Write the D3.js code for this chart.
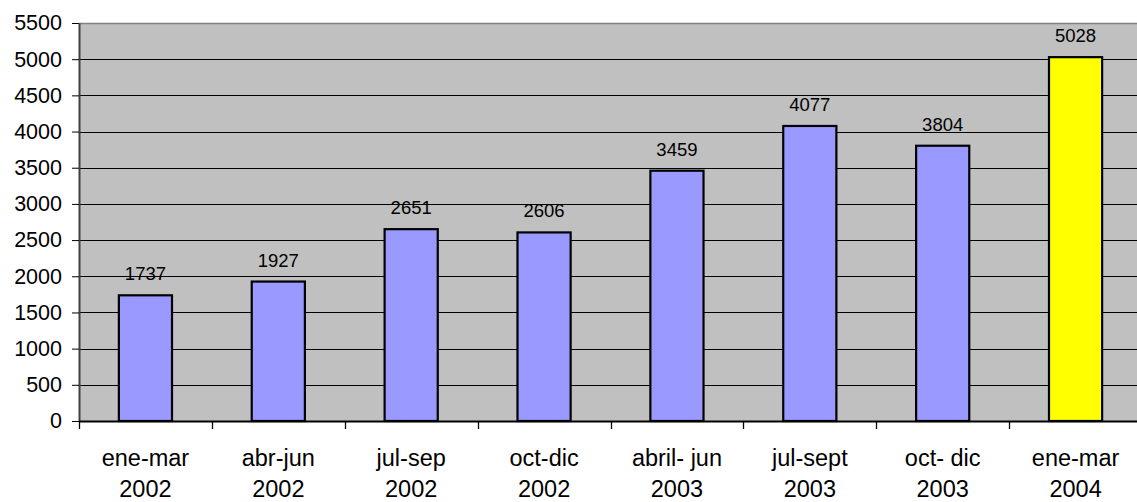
<!DOCTYPE html>
<html>
<head>
<meta charset="utf-8">
<script src="https://cdn.jsdelivr.net/npm/d3@7"></script>
<style>
  body { margin: 0; background: #fff; }
  svg { display: block; overflow: hidden; }
  text { font-family: Arial, "Liberation Sans", sans-serif; fill: #000; }
</style>
</head>
<body>
<div id="chart"></div>
<script>
// data
var categories = ["ene-mar|2002", "abr-jun|2002", "jul-sep|2002", "oct-dic|2002",
                  "abril- jun|2003", "jul-sept|2003", "oct- dic|2003", "ene-mar|2004"];
var values = [1737, 1927, 2651, 2606, 3459, 4077, 3804, 5028];
var barColors = ["#9999FF", "#9999FF", "#9999FF", "#9999FF", "#9999FF", "#9999FF", "#9999FF", "#FFFF00"];
var yTicks = [0, 500, 1000, 1500, 2000, 2500, 3000, 3500, 4000, 4500, 5000, 5500];

var W = 1137, H = 502;
var margin = { top: 23, left: 79 },
    plotW = 1063, plotH = 398;

var svg = d3.select("#chart").append("svg")
    .attr("width", W).attr("height", H);

var g = svg.append("g")
    .attr("transform", "translate(" + margin.left + "," + margin.top + ")");

var x = d3.scaleBand().domain(categories).range([0, plotW]).paddingInner(0.6).paddingOuter(0.3);
var xTickScale = d3.scaleBand().domain(categories).range([0, plotW]);
var y = d3.scaleLinear().domain([0, 5500]).range([plotH, 0]);

// plot background
g.append("rect")
    .attr("width", plotW).attr("height", plotH)
    .attr("fill", "#C0C0C0");
g.append("line")
    .attr("x1", 0).attr("x2", plotW).attr("y1", 0.5).attr("y2", 0.5)
    .attr("stroke", "#808080").attr("stroke-width", 1.5);

// gridlines
g.selectAll(".grid").data(yTicks.filter(function (d) { return d > 0 && d < 5500; }))
  .enter().append("line")
    .attr("x1", 0).attr("x2", plotW)
    .attr("y1", function (d) { return Math.round(y(d)) + 0.5; })
    .attr("y2", function (d) { return Math.round(y(d)) + 0.5; })
    .attr("stroke", "#000").attr("stroke-width", 1);

// bars
g.selectAll(".bar").data(values).enter().append("rect")
    .attr("x", function (d, i) { return x(categories[i]); })
    .attr("y", function (d) { return y(d); })
    .attr("width", x.bandwidth())
    .attr("height", function (d) { return plotH - y(d); })
    .attr("fill", function (d, i) { return barColors[i]; })
    .attr("stroke", "#000").attr("stroke-width", 2.2);

// value labels
g.selectAll(".val").data(values).enter().append("text")
    .attr("x", function (d, i) { return x(categories[i]) + x.bandwidth() / 2; })
    .attr("y", function (d) { return y(d) - 15; })
    .attr("text-anchor", "middle")
    .style("font-size", "18.5px")
    .text(function (d) { return d; });

// y axis
var yAxis = g.append("g").call(d3.axisLeft(y).tickValues(yTicks).tickFormat(d3.format("d"))
    .tickSize(7).tickPadding(10).tickSizeOuter(0));
yAxis.select(".domain").attr("stroke", "#404040").attr("stroke-width", 2);
yAxis.selectAll(".tick line").attr("stroke", "#000");
yAxis.selectAll("text").style("font-size", "21.5px").attr("font-family", null);

// x axis
var xAxis = g.append("g").attr("transform", "translate(0," + plotH + ")")
    .call(d3.axisBottom(xTickScale).tickSize(0).tickFormat(""));
xAxis.select(".domain").attr("stroke", "#000").attr("stroke-width", 2);
xAxis.selectAll(".tick").remove();

// x tick marks at band boundaries
xAxis.selectAll(".xt").data(categories).enter().append("line")
    .attr("x1", function (d) { return Math.round(xTickScale(d)) + 0.5; })
    .attr("x2", function (d) { return Math.round(xTickScale(d)) + 0.5; })
    .attr("y1", 0).attr("y2", 8)
    .attr("stroke", "#000").attr("stroke-width", 1.3);

// category labels (two lines)
var cl = xAxis.selectAll(".cat").data(categories).enter().append("text")
    .attr("text-anchor", "middle")
    .attr("transform", function (d) { return "translate(" + (xTickScale(d) + xTickScale.bandwidth() / 2) + ",0)"; })
    .style("font-size", "23.5px");
cl.append("tspan").attr("x", 0).attr("y", 45).text(function (d) { return d.split("|")[0]; });
cl.append("tspan").attr("x", 0).attr("y", 76).text(function (d) { return d.split("|")[1]; });
</script>
</body>
</html>
